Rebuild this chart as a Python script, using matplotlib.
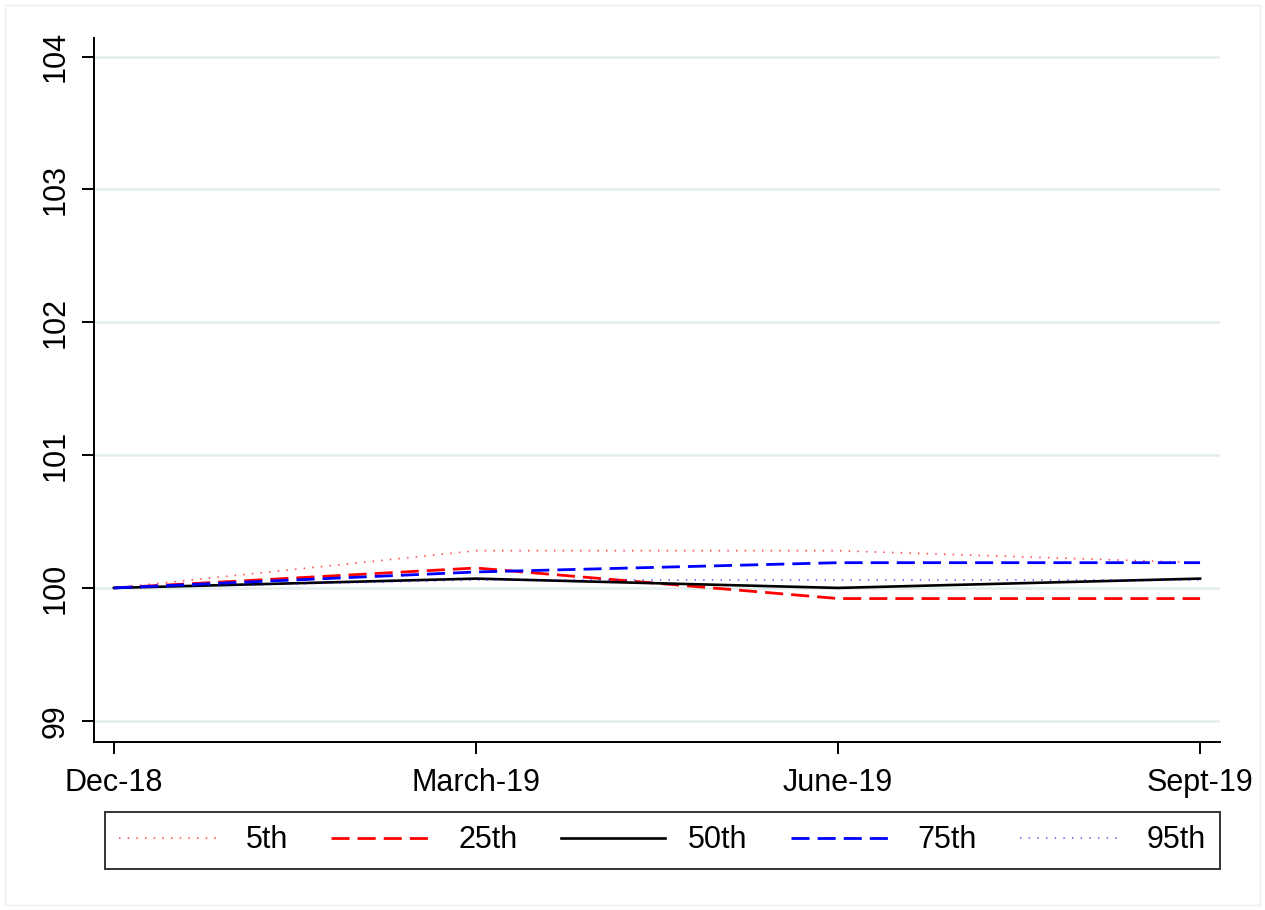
import matplotlib
matplotlib.use("Agg")
import matplotlib.pyplot as plt
from matplotlib.patches import Rectangle

plt.rcParams['font.family'] = ['Liberation Sans', 'DejaVu Sans']

periods = ["Dec-18", "March-19", "June-19", "Sept-19"]
p5 = [100.0, 100.28, 100.28, 100.19]
p25 = [100.0, 100.15, 99.92, 99.92]
p50 = [100.0, 100.07, 100.0, 100.07]
p75 = [100.0, 100.12, 100.19, 100.19]
p95 = [100.0, 100.06, 100.06, 100.06]
yticks = [99, 100, 101, 102, 103, 104]

fig = plt.figure(figsize=(12.65, 9.1), dpi=100)
ax = fig.add_axes([94 / 1265, 1 - 742 / 910, (1220 - 94) / 1265, (742 - 38) / 910])

x = list(range(len(periods)))
for t in yticks:
    ax.axhline(t, color="#E3EDEE", lw=1.8, zorder=0)

dash = (6.5, 2.9)
dot = (0.9, 4.3)
ax.plot(x, p5, color="#FF0000", alpha=0.7, lw=1.2, dashes=dot, label="5th")
ax.plot(x, p25, color="#FF0000", lw=2.0, dashes=dash, label="25th")
ax.plot(x, p50, color="black", lw=1.9, label="50th")
ax.plot(x, p75, color="#0000FF", lw=2.0, dashes=dash, label="75th")
ax.plot(x, p95, color="#0000FF", alpha=0.6, lw=1.2, dashes=dot, label="95th")

ax.set_xlim(-0.055, 3.055)
ax.set_ylim(98.84, 104.14)
ax.set_xticks(x)
ax.set_xticklabels(periods)
ax.set_yticks(yticks)
ax.set_yticklabels([str(t) for t in yticks], rotation=90, va="center")

for s in ["top", "right"]:
    ax.spines[s].set_visible(False)
for s in ["left", "bottom"]:
    ax.spines[s].set_linewidth(1.4)
    ax.spines[s].set_color("black")
ax.tick_params(axis="both", direction="out", length=8.5, width=1.4, labelsize=22, colors="black")
ax.tick_params(axis="x", pad=10)
ax.tick_params(axis="y", pad=8)

leg = fig.legend(loc="lower left",
                 bbox_to_anchor=(105 / 1265, 1 - 869 / 910, (1220 - 105) / 1265, 56 / 910),
                 mode="expand", ncol=5, fontsize=22, frameon=True, fancybox=False,
                 handlelength=3.4, handletextpad=0.75, borderaxespad=0, borderpad=0.45)
leg.get_frame().set_edgecolor("black")
leg.get_frame().set_linewidth(1.4)

fig.patches.append(Rectangle((5 / 1265, 5 / 910), 1 - 10 / 1265, 1 - 10 / 910,
                             transform=fig.transFigure, fill=False,
                             edgecolor="#EEEEEE", lw=1.0))

fig.savefig("out.png", dpi=100, facecolor="white")
